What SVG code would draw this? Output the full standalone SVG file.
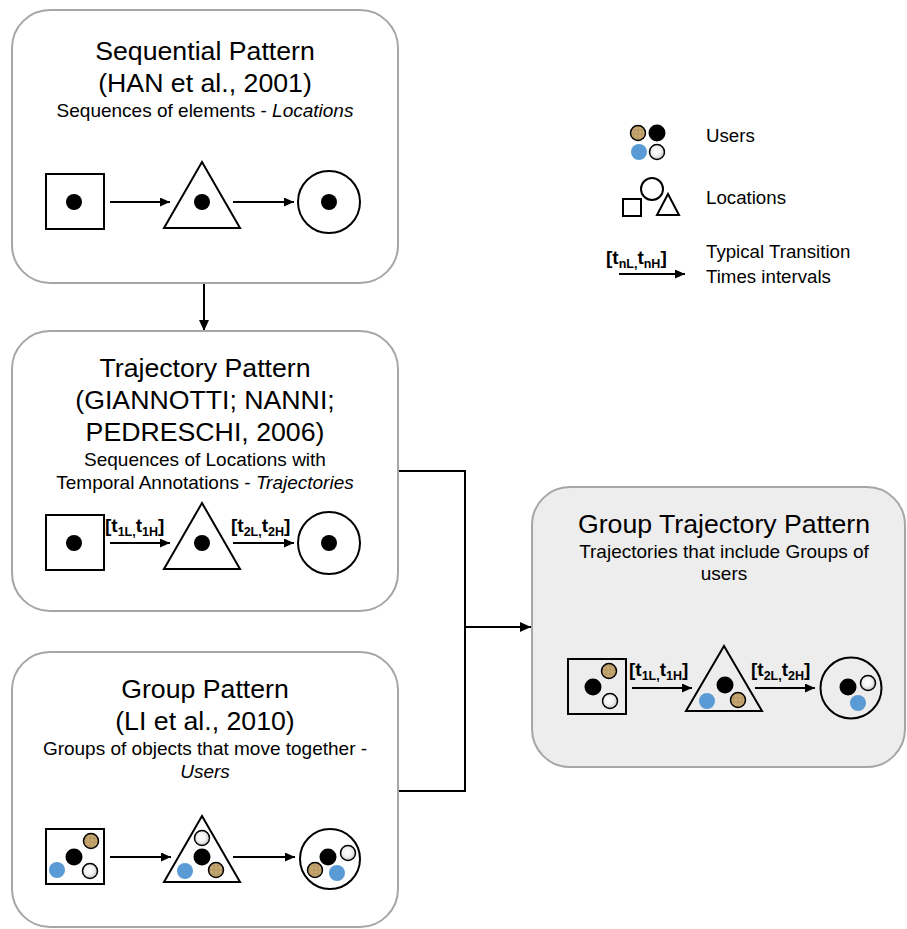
<svg xmlns="http://www.w3.org/2000/svg" width="907" height="929" viewBox="0 0 907 929">
<defs>
<style>
.node{fill:#ffffff;stroke:#a6a6a6;stroke-width:2}
.node.gray{fill:#ededed}
.t{font-family:"Liberation Sans",Arial,sans-serif;fill:#000;text-anchor:middle}
.ti{font-size:26.7px}
.st{font-size:19px}
.lg{font-family:"Liberation Sans",Arial,sans-serif;font-size:18.7px;fill:#000}
.lab{font-family:"Liberation Sans",Arial,sans-serif;font-weight:bold;font-size:19px;fill:#000}
.sub{font-size:12.5px}
.shape{fill:none;stroke:#000;stroke-width:2}
.ar{stroke:#000;stroke-width:2;fill:none;marker-end:url(#ah)}
.con{stroke:#000;stroke-width:2;fill:none}
.conA{stroke:#000;stroke-width:2;fill:none;marker-end:url(#ahc)}
.bk{fill:#000}
.bl{fill:#5b9bd5}
.wh{fill:url(#whg);stroke:#000;stroke-width:1.5}
.gd{fill:url(#goldTex);stroke:#000;stroke-width:1.5}
</style>
<marker id="ah" markerUnits="userSpaceOnUse" markerWidth="11" markerHeight="10" refX="10" refY="4.5" orient="auto">
<path d="M0,0 L10,4.5 L0,9 z" fill="#000"/>
</marker>
<marker id="ahc" markerUnits="userSpaceOnUse" markerWidth="12" markerHeight="11" refX="11" refY="5" orient="auto">
<path d="M0,0 L11,5 L0,10 z" fill="#000"/>
</marker>
<radialGradient id="whg" cx="0.45" cy="0.45" r="0.6">
<stop offset="0" stop-color="#ffffff"/>
<stop offset="0.5" stop-color="#f2f2f2"/>
<stop offset="1" stop-color="#bdbdbd"/>
</radialGradient>
<pattern id="goldTex" patternUnits="userSpaceOnUse" width="4" height="4">
<rect width="4" height="4" fill="#c8aa74"/>
<path d="M2,0 V4 M0,2 H4" stroke="#9a7b48" stroke-width="0.8" opacity="0.55"/>
</pattern>
</defs>

<g id="connectors">
<path class="conA" d="M204,283 V331"/>
<path class="con" d="M398,471 H465 V791 H398"/>
<path class="conA" d="M465,627 H531"/>
</g>

<g id="node-sequential">
<rect class="node" x="12" y="10" width="386" height="273" rx="38"/>
<text class="t ti" x="205" y="60">Sequential Pattern</text>
<text class="t ti" x="205" y="92">(HAN et al., 2001)</text>
<text class="t st" x="205" y="117">Sequences of elements - <tspan font-style="italic">Locations</tspan></text>
<rect class="shape" x="46" y="174" width="58" height="55"/>
<circle class="bk" cx="74" cy="202" r="8"/>
<path class="ar" d="M110,202 H170"/>
<path class="shape" d="M202,162 L240,228 L164,228 Z"/>
<circle class="bk" cx="202" cy="202" r="8"/>
<path class="ar" d="M233,202 H294"/>
<circle class="shape" cx="329" cy="202" r="31"/>
<circle class="bk" cx="329" cy="202" r="8"/>
</g>

<g id="node-trajectory">
<rect class="node" x="12" y="331" width="386" height="280" rx="38"/>
<text class="t ti" x="205" y="377">Trajectory Pattern</text>
<text class="t ti" x="205" y="409">(GIANNOTTI; NANNI;</text>
<text class="t ti" x="205" y="441">PEDRESCHI, 2006)</text>
<text class="t st" x="205" y="466">Sequences of Locations with</text>
<text class="t st" x="205" y="489">Temporal Annotations - <tspan font-style="italic">Trajectories</tspan></text>
<rect class="shape" x="46" y="515" width="58" height="55"/>
<circle class="bk" cx="74" cy="543" r="8"/>
<path class="ar" d="M110,543 H170"/>
<text class="lab" x="105" y="532">[t<tspan class="sub" dy="4">1L,</tspan><tspan dy="-4">t</tspan><tspan class="sub" dy="4">1H</tspan><tspan dy="-4">]</tspan></text>
<path class="shape" d="M202,503 L240,569 L164,569 Z"/>
<circle class="bk" cx="202" cy="543" r="8"/>
<path class="ar" d="M233,543 H294"/>
<text class="lab" x="231" y="532">[t<tspan class="sub" dy="4">2L,</tspan><tspan dy="-4">t</tspan><tspan class="sub" dy="4">2H</tspan><tspan dy="-4">]</tspan></text>
<circle class="shape" cx="329" cy="543" r="31"/>
<circle class="bk" cx="329" cy="543" r="8"/>
</g>

<g id="node-group">
<rect class="node" x="12" y="652" width="386" height="275" rx="38"/>
<text class="t ti" x="205" y="698">Group Pattern</text>
<text class="t ti" x="205" y="730">(LI et al., 2010)</text>
<text class="t st" x="205" y="755">Groups of objects that move together -</text>
<text class="t st" x="205" y="778" font-style="italic">Users</text>
<rect class="shape" x="46" y="829" width="58" height="55"/>
<circle class="bk" cx="74" cy="857" r="8.5"/>
<circle class="gd" cx="91" cy="841" r="7.5"/>
<circle class="wh" cx="90" cy="871" r="7.5"/>
<circle class="bl" cx="57" cy="870" r="8"/>
<path class="ar" d="M110,857 H171"/>
<path class="shape" d="M202,816 L240,882 L164,882 Z"/>
<circle class="wh" cx="202" cy="838" r="7.5"/>
<circle class="bk" cx="202" cy="857" r="8.5"/>
<circle class="bl" cx="185" cy="871" r="8"/>
<circle class="gd" cx="216" cy="870" r="7.5"/>
<path class="ar" d="M233,857 H295"/>
<circle class="shape" cx="330" cy="859" r="30"/>
<circle class="bk" cx="328" cy="857" r="8.5"/>
<circle class="wh" cx="348" cy="853" r="7.5"/>
<circle class="gd" cx="315" cy="870" r="7.5"/>
<circle class="bl" cx="337" cy="873" r="8"/>
</g>

<g id="node-gtp">
<rect class="node gray" x="532" y="487" width="373" height="280" rx="38"/>
<text class="t ti" x="724" y="533">Group Trajectory Pattern</text>
<text class="t st" x="724" y="558">Trajectories that include Groups of</text>
<text class="t st" x="724" y="580">users</text>
<rect class="shape" x="568" y="659" width="58" height="55"/>
<circle class="bk" cx="593" cy="687" r="8.5"/>
<circle class="gd" cx="609" cy="671" r="7.5"/>
<circle class="wh" cx="610" cy="701" r="7.5"/>
<path class="ar" d="M632,688 H692"/>
<text class="lab" x="629" y="676">[t<tspan class="sub" dy="4">1L,</tspan><tspan dy="-4">t</tspan><tspan class="sub" dy="4">1H</tspan><tspan dy="-4">]</tspan></text>
<path class="shape" d="M724,646 L762,711 L686,711 Z"/>
<circle class="bk" cx="725" cy="685" r="8.5"/>
<circle class="bl" cx="707" cy="701" r="8"/>
<circle class="gd" cx="738" cy="700" r="7.5"/>
<path class="ar" d="M755,688 H815"/>
<text class="lab" x="751" y="676">[t<tspan class="sub" dy="4">2L,</tspan><tspan dy="-4">t</tspan><tspan class="sub" dy="4">2H</tspan><tspan dy="-4">]</tspan></text>
<circle class="shape" cx="851" cy="688" r="30.5"/>
<circle class="bk" cx="848" cy="687" r="8.5"/>
<circle class="wh" cx="868" cy="683" r="7.5"/>
<circle class="bl" cx="858" cy="703" r="8"/>
</g>

<g id="legend">
<circle class="gd" cx="638" cy="133" r="7.5"/>
<circle class="bk" cx="657" cy="133" r="8.5"/>
<circle class="bl" cx="639" cy="152" r="8"/>
<circle class="wh" cx="657" cy="152" r="7.5"/>
<text class="lg" x="706" y="142">Users</text>
<rect class="shape" x="623" y="199" width="18" height="17" stroke-width="1.5"/>
<circle class="shape" cx="652" cy="189" r="11" stroke-width="1.5"/>
<path class="shape" d="M668,194 L679,215 L657,215 Z" stroke-width="1.5"/>
<text class="lg" x="706" y="204">Locations</text>
<path class="ar" d="M619,274 H685"/>
<text class="lab" x="606" y="264">[t<tspan class="sub" dy="4">nL,</tspan><tspan dy="-4">t</tspan><tspan class="sub" dy="4">nH</tspan><tspan dy="-4">]</tspan></text>
<text class="lg" x="706" y="258">Typical Transition</text>
<text class="lg" x="706" y="283">Times intervals</text>
</g>
</svg>
